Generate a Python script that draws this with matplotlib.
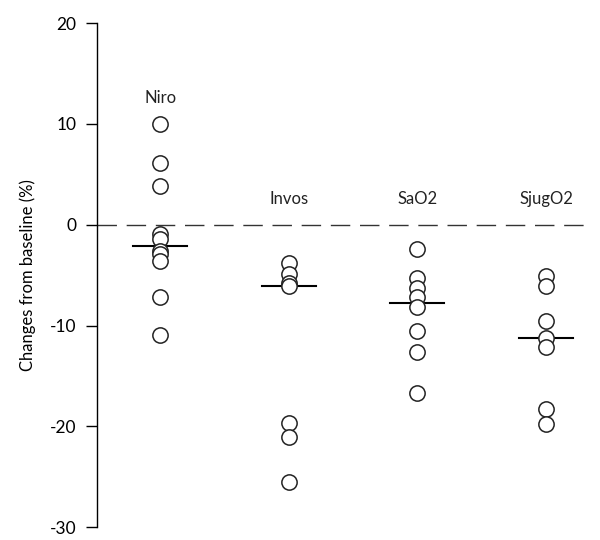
import numpy as np
import matplotlib.pyplot as plt

plt.rcParams.update({'font.family': ['Lato', 'DejaVu Sans'],
                     'font.size': 12,
                     'axes.unicode_minus': False})

groups = ["Niro", "Invos", "SaO2", "SjugO2"]
niro = [10.0, 6.1, 3.8, -0.9, -1.4, -2.6, -2.9, -3.6, -7.2, -10.9]
invos = [-3.8, -4.9, -5.8, -6.1, -19.7, -21.1, -25.5]
sao2 = [-2.4, -5.3, -6.3, -7.2, -8.2, -10.5, -12.6, -16.7]
sjugo2 = [-5.1, -6.1, -9.6, -11.2, -12.1, -18.3, -19.8]
medians = [-2.1, -6.1, -7.8, -11.2]
label_y = [12.6, 2.6, 2.6, 2.6]

fig = plt.figure(figsize=(6, 5.4), dpi=100)
ax = fig.add_axes([0.162, 0.024, 0.823, 0.933])

for i, vals in enumerate([niro, invos, sao2, sjugo2]):
    x = i + 1
    ax.plot([x] * len(vals), vals, ls="none", marker="o", ms=11,
            mfc="white", mec="#222222", mew=1.1, zorder=3)
    ax.plot([x - 0.21, x + 0.21], [medians[i]] * 2, color="black",
            lw=1.5, zorder=2)
    ax.text(x, label_y[i], groups[i], ha="center", va="center",
            fontsize=12, color="#222222")

ax.axhline(0, color="#333333", lw=1, dashes=(14, 7), zorder=1)

ax.set_xlim(0.51, 4.35)
ax.set_ylim(-30, 20)
ax.set_yticks([-30, -20, -10, 0, 10, 20])
ax.set_ylabel("Changes from baseline (%)", fontsize=12, labelpad=10)

for s in ["top", "right", "bottom"]:
    ax.spines[s].set_visible(False)
ax.spines["left"].set_linewidth(1.0)
ax.tick_params(axis="y", direction="out", length=8, width=1.0,
               labelsize=12.5, pad=7)
ax.set_xticks([])

plt.savefig("out.png", dpi=100)
